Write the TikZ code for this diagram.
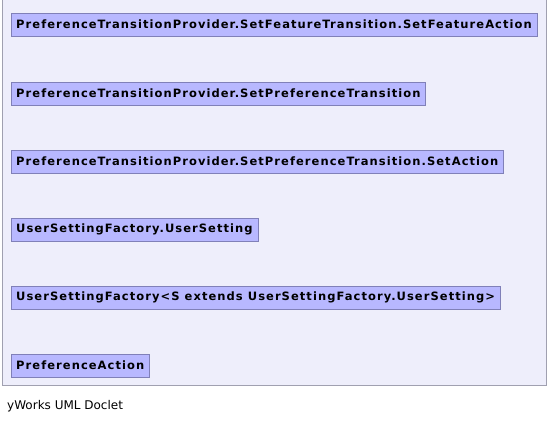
\documentclass[tikz,border=0pt]{standalone}
\usepackage{fontspec}
\setmainfont{DejaVu Sans}
\newfontfamily\classfont[LetterSpace=9.2]{DejaVu Sans}
\usepackage{tikz}
\definecolor{panelfill}{HTML}{EEEEFB}
\definecolor{panelline}{HTML}{A0A0B0}
\definecolor{classfill}{HTML}{B8B8FF}
\definecolor{classline}{HTML}{8080B8}
\tikzset{
  classbox/.style={draw=classline, fill=classfill, anchor=north west,
    font=\classfont\fontsize{11.5}{14}\selectfont\bfseries, inner xsep=5pt,
    minimum height=23pt, inner ysep=0pt},
}
\begin{document}
\begin{tikzpicture}[x=1pt, y=-1pt]
\useasboundingbox (0,0) rectangle (549,423);
\draw[panelline, fill=panelfill] (2.5,-1) rectangle (546.5,385.5);
\node[classbox] (featact) at (11,13) {PreferenceTransitionProvider.SetFeatureTransition.SetFeatureAction};
\node[classbox] (preftrans) at (11,82) {PreferenceTransitionProvider.SetPreferenceTransition};
\node[classbox] (prefact) at (11,150) {PreferenceTransitionProvider.SetPreferenceTransition.SetAction};
\node[classbox] (usersetting) at (11,218) {UserSettingFactory.UserSetting};
\node[classbox] (factory) at (11,286) {UserSettingFactory<S extends UserSettingFactory.UserSetting>};
\node[classbox] (action) at (11,354) {PreferenceAction};
\node[anchor=west, font=\fontsize{12}{14}\selectfont, inner sep=0pt] (doclet) at (7,406) {yWorks UML Doclet};
\end{tikzpicture}
\end{document}
